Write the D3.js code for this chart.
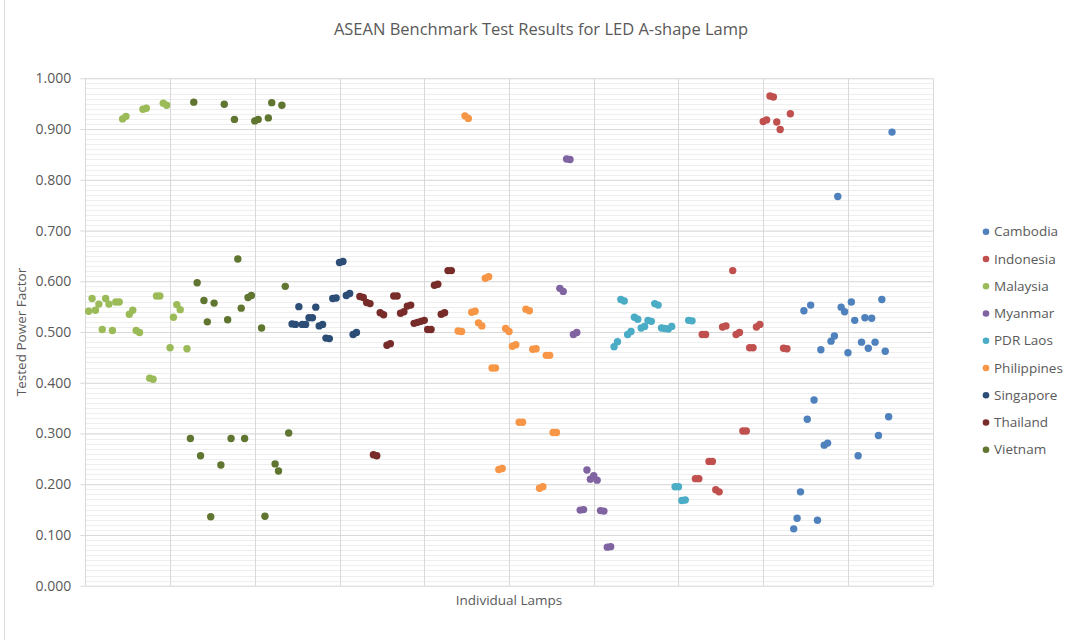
<!DOCTYPE html>
<html>
<head>
<meta charset="utf-8">
<script src="https://cdn.jsdelivr.net/npm/d3@7"></script>
<style>
  body { margin: 0; background: #fff; }
  svg { display: block; font-family: "Open Sans", sans-serif; }
</style>
</head>
<body>
<svg id="chart"></svg>
<script>
// Data: [lamp index, tested power factor]
const cambodia = [[209,0.112],[210,0.133],[211,0.185],[212,0.542],[213,0.328],[214,0.553],[215,0.366],[216,0.129],[217,0.465],[218,0.277],[219,0.281],[220,0.482],[221,0.492],[222,0.767],[223,0.549],[224,0.540],[225,0.459],[226,0.559],[227,0.523],[228,0.256],[229,0.480],[230,0.528],[231,0.468],[232,0.527],[233,0.480],[234,0.296],[235,0.564],[236,0.462],[237,0.333],[238,0.894]];
const indonesia = [[180,0.211],[181,0.211],[182,0.495],[183,0.495],[184,0.245],[185,0.245],[186,0.189],[187,0.185],[188,0.510],[189,0.512],[191,0.621],[192,0.495],[193,0.499],[194,0.305],[195,0.305],[196,0.469],[197,0.469],[198,0.510],[199,0.515],[200,0.915],[201,0.918],[202,0.965],[203,0.963],[204,0.914],[205,0.899],[206,0.468],[207,0.467],[208,0.930]];
const malaysia = [[1,0.541],[2,0.566],[3,0.543],[4,0.555],[5,0.505],[6,0.566],[7,0.555],[8,0.503],[9,0.559],[10,0.559],[11,0.920],[12,0.925],[13,0.535],[14,0.543],[15,0.503],[16,0.499],[17,0.939],[18,0.941],[19,0.409],[20,0.407],[21,0.571],[22,0.571],[23,0.951],[24,0.947],[25,0.469],[26,0.529],[27,0.554],[28,0.544],[30,0.467]];
const myanmar = [[140,0.586],[141,0.580],[142,0.841],[143,0.840],[144,0.495],[145,0.499],[146,0.149],[147,0.150],[148,0.228],[149,0.210],[150,0.217],[151,0.208],[152,0.148],[153,0.147],[154,0.076],[155,0.077]];
const pdrLaos = [[156,0.471],[157,0.481],[158,0.564],[159,0.561],[160,0.495],[161,0.501],[162,0.529],[163,0.525],[164,0.508],[165,0.511],[166,0.523],[167,0.521],[168,0.556],[169,0.553],[170,0.508],[171,0.507],[172,0.506],[173,0.511],[174,0.195],[175,0.195],[176,0.168],[177,0.169],[178,0.523],[179,0.522]];
const philippines = [[110,0.502],[111,0.501],[112,0.926],[113,0.921],[114,0.539],[115,0.541],[116,0.518],[117,0.512],[118,0.606],[119,0.609],[120,0.429],[121,0.429],[122,0.229],[123,0.231],[124,0.507],[125,0.501],[126,0.472],[127,0.475],[128,0.322],[129,0.322],[130,0.545],[131,0.542],[132,0.466],[133,0.467],[134,0.192],[135,0.195],[136,0.454],[137,0.454],[138,0.302],[139,0.302]];
const singapore = [[61,0.516],[62,0.515],[63,0.550],[64,0.515],[65,0.515],[66,0.528],[67,0.528],[68,0.549],[69,0.512],[70,0.515],[71,0.488],[72,0.487],[73,0.566],[74,0.567],[75,0.637],[76,0.639],[77,0.572],[78,0.576],[79,0.495],[80,0.499]];
const thailand = [[81,0.570],[82,0.568],[83,0.558],[84,0.556],[85,0.258],[86,0.256],[87,0.538],[88,0.534],[89,0.474],[90,0.477],[91,0.571],[92,0.571],[93,0.537],[94,0.540],[95,0.551],[96,0.553],[97,0.517],[98,0.519],[99,0.521],[100,0.523],[101,0.505],[102,0.505],[103,0.592],[104,0.594],[105,0.535],[106,0.538],[107,0.621],[108,0.621]];
const vietnam = [[31,0.290],[32,0.953],[33,0.597],[34,0.256],[35,0.562],[36,0.520],[37,0.136],[38,0.557],[40,0.238],[41,0.949],[42,0.524],[43,0.290],[44,0.919],[45,0.644],[46,0.547],[47,0.290],[48,0.568],[49,0.572],[50,0.916],[51,0.919],[52,0.508],[53,0.137],[54,0.922],[55,0.952],[56,0.240],[57,0.226],[58,0.947],[59,0.590],[60,0.301]];

const countries = ["Cambodia", "Indonesia", "Malaysia", "Myanmar", "PDR Laos", "Philippines", "Singapore", "Thailand", "Vietnam"];
const seriesValues = [cambodia, indonesia, malaysia, myanmar, pdrLaos, philippines, singapore, thailand, vietnam];
const yTicks = [0, 0.1, 0.2, 0.3, 0.4, 0.5, 0.6, 0.7, 0.8, 0.9, 1.0];

const width = 1067;
const height = 640;
const margin = { top: 78.3, right: 134.3, bottom: 54.3, left: 85.3 };

// Office 2007 style palette
const color = d3.scaleOrdinal()
    .domain(countries)
    .range(["#4F81BD", "#C0504D", "#9BBB59", "#8064A2", "#4BACC6", "#F79646", "#2C4D75", "#772C2A", "#5F7530"]);

const svg = d3.select("#chart")
    .attr("width", width)
    .attr("height", height);

// chart area border (only the left edge is visible in the frame)
svg.append("line")
    .attr("x1", 4.5).attr("x2", 4.5)
    .attr("y1", 0).attr("y2", height)
    .attr("stroke", "#d9d9d9");

const x = d3.scaleLinear()
    .domain([0, 250])
    .range([margin.left, width - margin.right]);

const y = d3.scaleLinear()
    .domain([0, 1])
    .range([height - margin.bottom, margin.top]);

// minor gridlines
svg.append("g")
    .selectAll("line")
    .data(d3.range(0, 101).map(d => d / 100))
    .join("line")
    .attr("x1", x(0)).attr("x2", x(250))
    .attr("y1", d => Math.round(y(d)) + 0.5)
    .attr("y2", d => Math.round(y(d)) + 0.5)
    .attr("stroke", "#eeeeee");

// major vertical gridlines
svg.append("g")
    .selectAll("line")
    .data(d3.range(0, 251, 25))
    .join("line")
    .attr("x1", d => Math.round(x(d)) + 0.5)
    .attr("x2", d => Math.round(x(d)) + 0.5)
    .attr("y1", y(1)).attr("y2", y(0))
    .attr("stroke", "#d9d9d9");

// y axis with major gridlines
const yAxis = svg.append("g")
    .attr("transform", `translate(${x(0)},0)`)
    .call(d3.axisLeft(y)
        .tickValues(yTicks)
        .tickFormat(d3.format(".3f"))
        .tickSize(-(x(250) - x(0)))
        .tickPadding(14));

yAxis.select(".domain").remove();
yAxis.selectAll(".tick line")
    .attr("stroke", "#d9d9d9")
    .attr("x1", -5);
yAxis.selectAll(".tick text")
    .attr("fill", "#595959")
    .attr("font-size", "14px")
    .attr("font-family", "'Open Sans', sans-serif");

// points
const series = countries.map((name, i) => ({ name, values: seriesValues[i] }));

svg.append("g")
    .selectAll("g")
    .data(series)
    .join("g")
    .attr("fill", d => color(d.name))
    .selectAll("circle")
    .data(d => d.values)
    .join("circle")
    .attr("cx", d => x(d[0]))
    .attr("cy", d => y(d[1]))
    .attr("r", 3.7);

// title
svg.append("text")
    .attr("x", 541)
    .attr("y", 35)
    .attr("text-anchor", "middle")
    .attr("fill", "#595959")
    .attr("font-size", "16.5px")
    .text("ASEAN Benchmark Test Results for LED A-shape Lamp");

// axis titles
svg.append("text")
    .attr("x", (x(0) + x(250)) / 2)
    .attr("y", 605)
    .attr("text-anchor", "middle")
    .attr("fill", "#595959")
    .attr("font-size", "13.5px")
    .text("Individual Lamps");

svg.append("text")
    .attr("transform", `translate(26,${(y(0) + y(1)) / 2}) rotate(-90)`)
    .attr("text-anchor", "middle")
    .attr("fill", "#595959")
    .attr("font-size", "13.5px")
    .text("Tested Power Factor");

// legend
const legend = svg.append("g")
    .selectAll("g")
    .data(countries)
    .join("g")
    .attr("transform", (d, i) => `translate(986,${231.7 + i * 27.25})`);

legend.append("circle")
    .attr("r", 3.3)
    .attr("fill", d => color(d));

legend.append("text")
    .attr("x", 8)
    .attr("dy", "0.35em")
    .attr("fill", "#595959")
    .attr("font-size", "13.5px")
    .text(d => d);
</script>
</body>
</html>
